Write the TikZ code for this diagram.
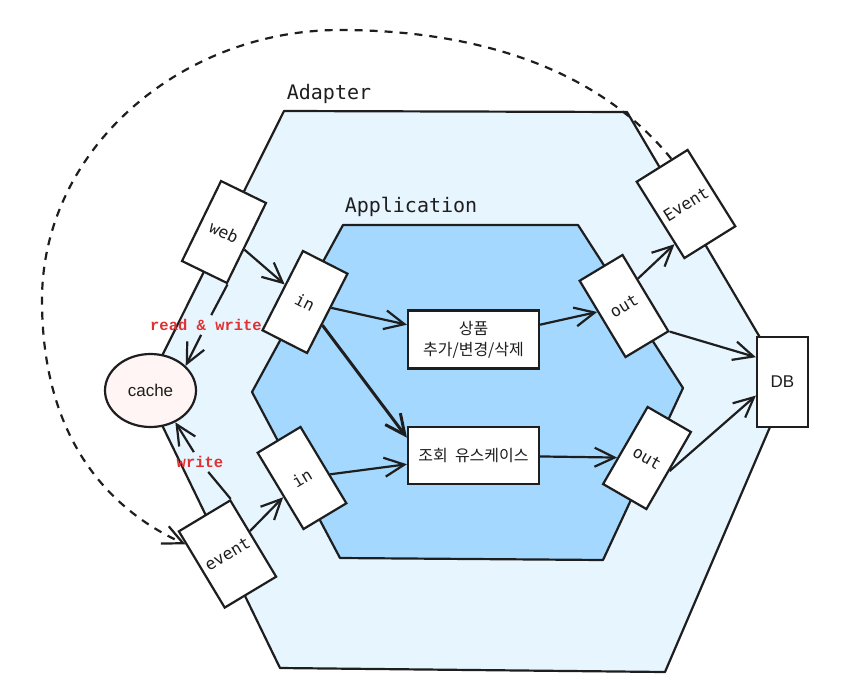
\documentclass[tikz,border=0pt]{standalone}
\usepackage{fontspec}
\setmainfont{DejaVu Sans Mono}
\newfontfamily\kofont{Noto Sans CJK KR}
\newfontfamily\codefont{Liberation Mono}
\newfontfamily\plainsans{Liberation Sans}
\usetikzlibrary{arrows.meta,shapes.geometric}

\definecolor{adapterblue}{HTML}{E7F5FF}
\definecolor{appblue}{HTML}{A5D8FF}
\definecolor{cachepink}{HTML}{FFF5F5}
\definecolor{labelred}{HTML}{E03131}
\definecolor{ink}{HTML}{1E1E1E}

\tikzset{
  port/.style={draw=ink, fill=white, line width=2.2pt, minimum width=50pt, minimum height=89pt,
    inner sep=0pt, text=ink, font=\fontsize{16.5}{19}\selectfont},
  usecase/.style={draw=ink, fill=white, line width=2.2pt, minimum width=131pt, minimum height=58pt,
    align=center, text=ink, font=\kofont\fontsize{16}{21}\selectfont},
  flow/.style={draw=ink, line width=2.2pt, -{Straight Barb[length=20pt,width=19pt]}},
  plainline/.style={draw=ink, line width=2.2pt},
  redlabel/.style={text=labelred, font=\codefont\bfseries\fontsize{15.5}{18}\selectfont, inner sep=4pt},
  title/.style={text=ink, font=\fontsize{20}{23}\selectfont},
}

\begin{document}
\begin{tikzpicture}[x=1pt, y=-1pt]
		\useasboundingbox (0,0) rectangle (845,699);

		% Adapter and Application layers
		\filldraw[fill=adapterblue, draw=ink, line width=2.2pt, line join=round]
			(284,111) -- (627,112) -- (788,385) -- (665,672) -- (280,668) -- (145,390) -- cycle;
		\filldraw[fill=appblue, draw=ink, line width=2.2pt, line join=round]
			(343,225) -- (578,225) -- (683,388) -- (603,560) -- (340,558) -- (252,392) -- cycle;

		\node[title] (adapterlbl) at (329,94) {Adapter};
		\node[title] (applbl) at (411,207) {Application};

		% Ports
		\node[port, rotate=-26] (web) at (224,232) {web};
		\node[port, rotate=-27] (inA) at (305,302) {in};
		\node[port, rotate=31] (inB) at (302,478) {in};
		\node[port, rotate=31, minimum width=60pt] (event) at (227.5,554) {event};
		\node[port, rotate=31] (outA) at (624,306) {out};
		\node[port, rotate=-30] (outB) at (647,458) {out};
		\node[port, rotate=32, minimum width=60pt, minimum height=90pt] (Event) at (686,204) {Event};
		\node[port, minimum width=51pt, minimum height=90pt, font=\plainsans\fontsize{17}{19}\selectfont] (DB) at (782.5,382) {DB};

		% Use cases
		\node[usecase] (save) at (473.5,339.5) {상품\\추가/변경/삭제};
		\node[usecase, minimum height=57pt] (find) at (473.5,455.5) {조회\ \ 유스케이스};

		\node[ellipse, draw=ink, fill=cachepink, line width=2.2pt, minimum width=91pt, minimum height=73pt,
			inner sep=0pt, text=ink, font=\plainsans\fontsize{17}{19}\selectfont] (cache) at (150.5,390.5) {cache};

		% Flows
		\draw[flow] (web) -- (inA);
		\draw[flow] (inA) -- (save);
		\draw[flow, line width=3pt] (inA) -- (find.165);
		\draw[flow] (event) -- (inB);
		\draw[flow] (inB) -- (find);
		\draw[flow] (save) -- (outA);
		\draw[flow] (find) -- (outB);
		\draw[flow] (outA.32) -- (Event.222);
		\draw[flow] (outA.south east) -- (DB.137);
		\draw[flow] (outB.east) -- (DB.207);

		% Cache access
		\node[redlabel] (rw) at (206,325) {read \& write};
		\node[redlabel] (wr) at (200,462) {write};
		\draw[plainline] (web.south east) -- (rw);
		\draw[flow] (rw) -- (cache.35);
		\draw[plainline] (event.north east) -- (wr);
		\draw[flow] (wr) -- (cache.-52);

		% Event loop back
		\draw[flow, dash pattern=on 8pt off 7pt] (Event.76) .. controls (595,65) and (470,30) .. (340,30)
			.. controls (180,30) and (42,150) .. (42,300)
			.. controls (42,440) and (110,510) .. (event.136);
	\end{tikzpicture}
\end{document}
